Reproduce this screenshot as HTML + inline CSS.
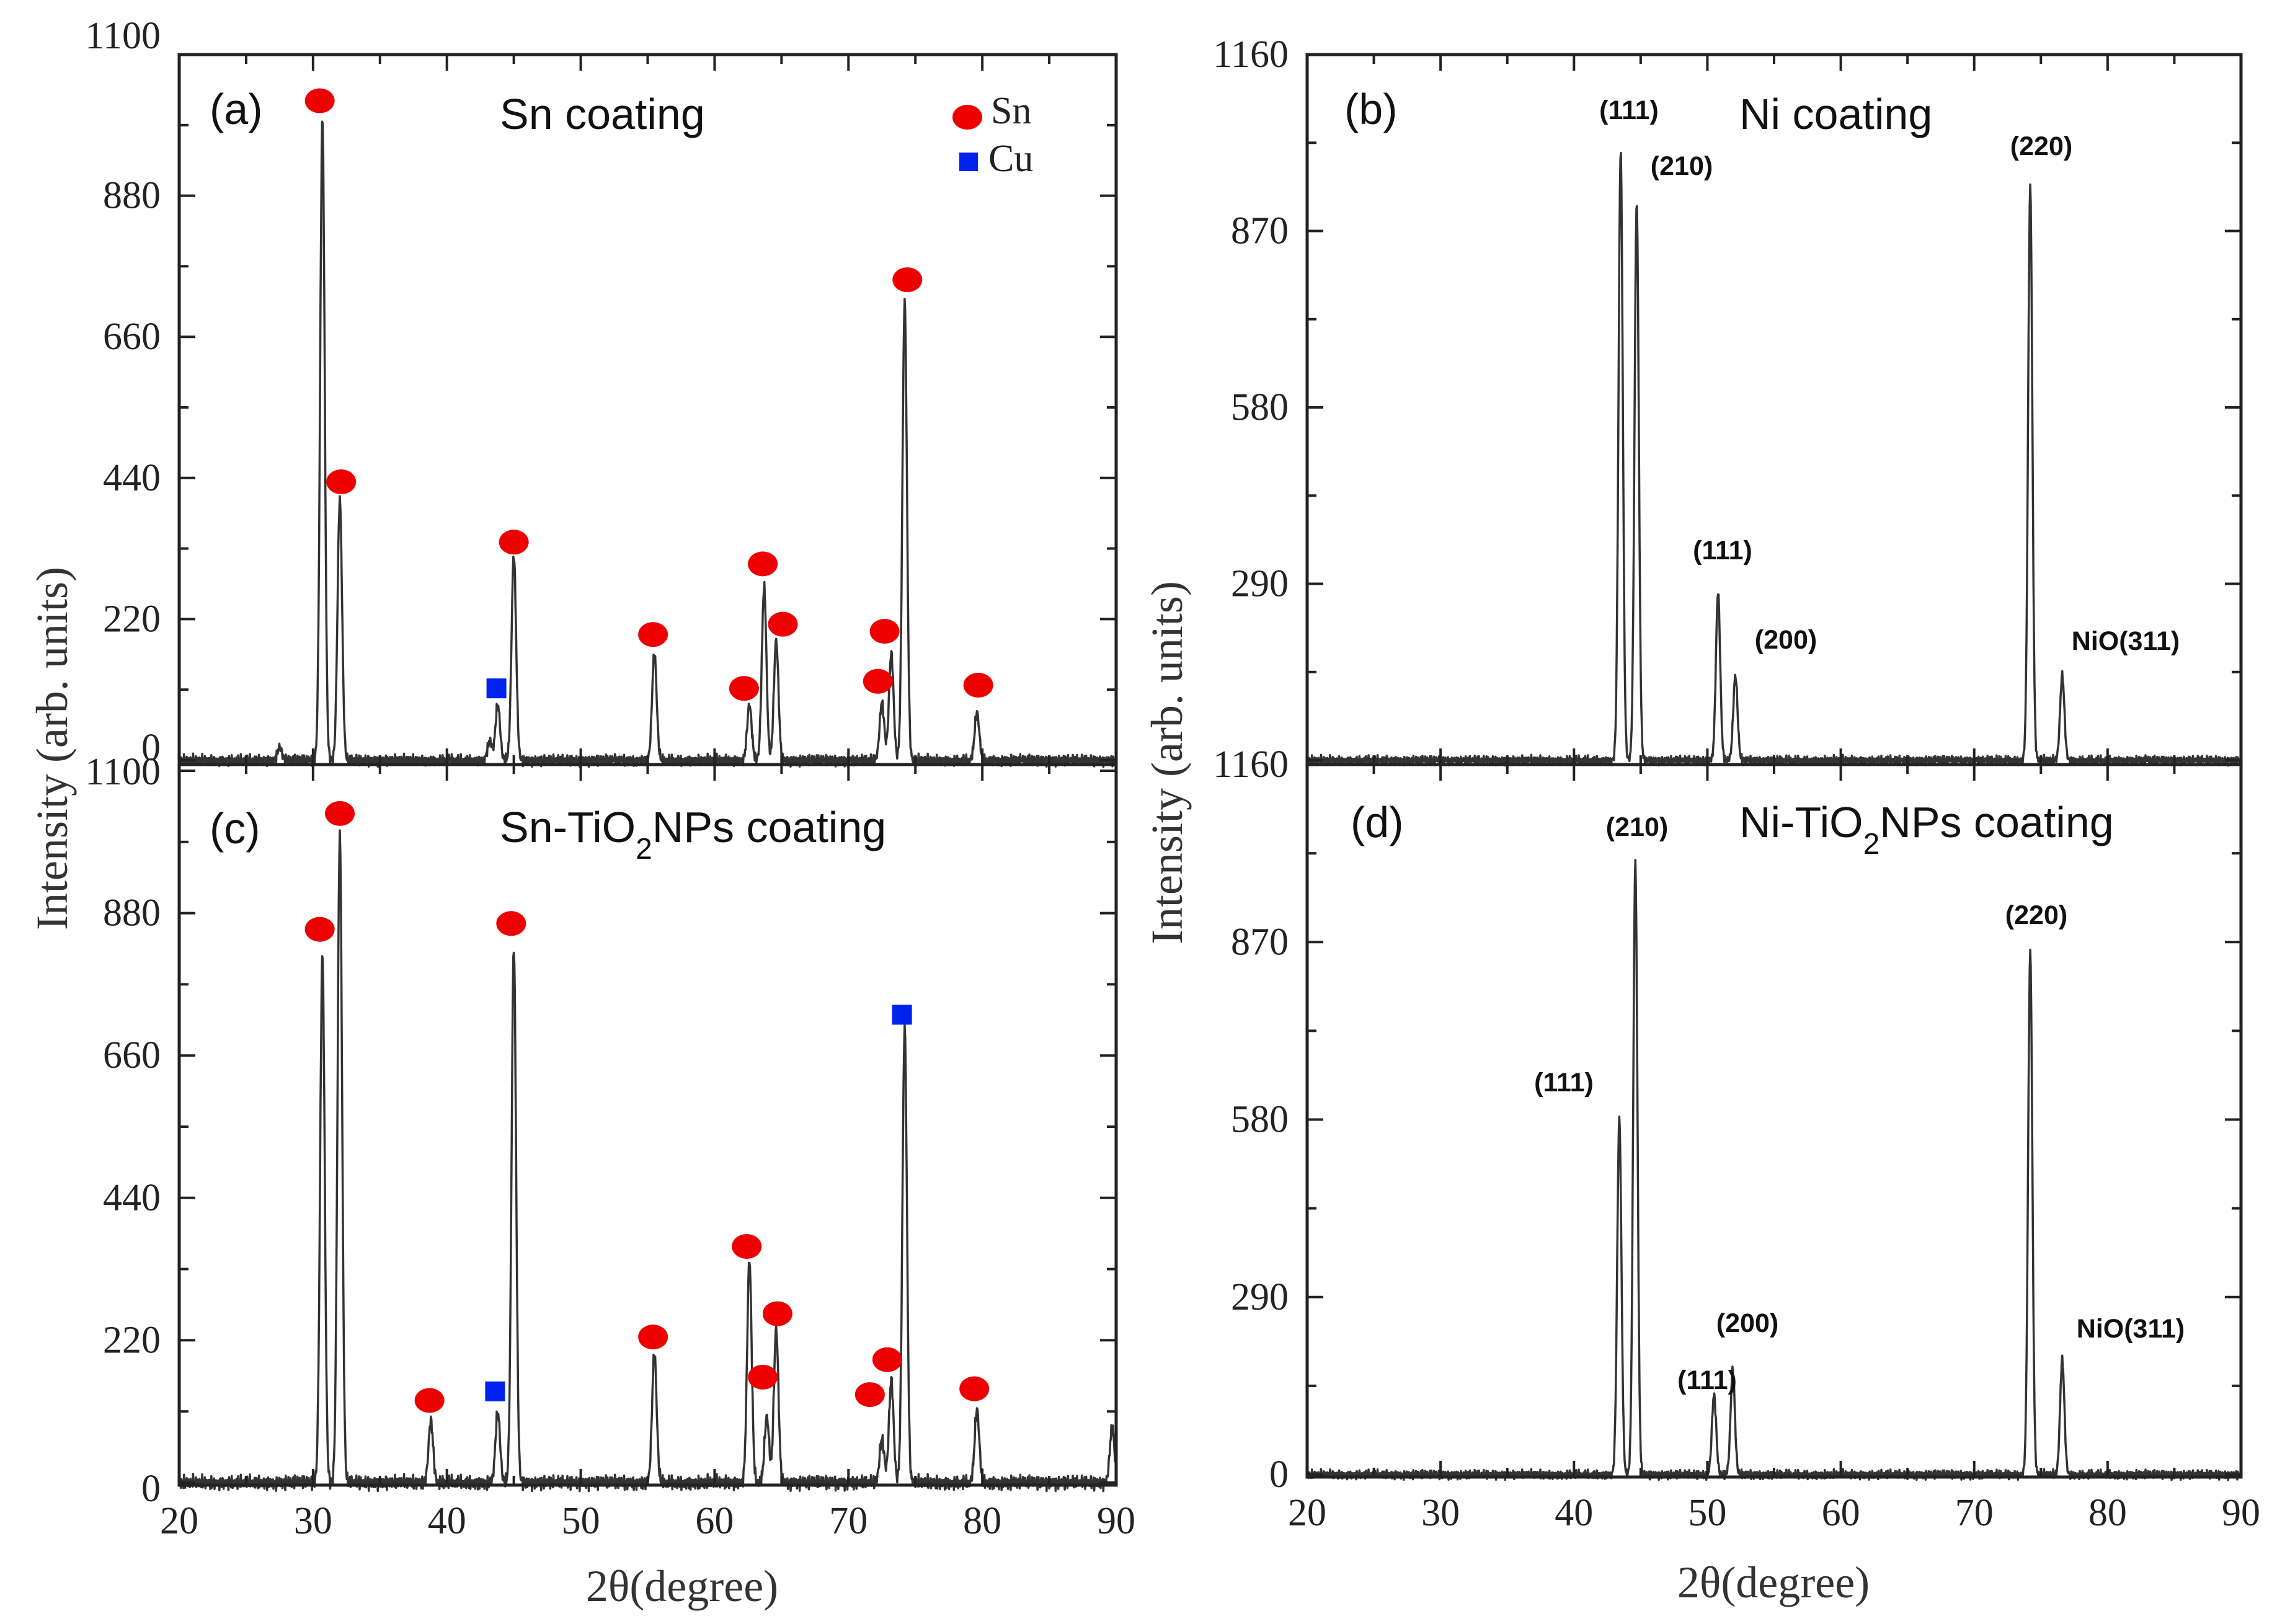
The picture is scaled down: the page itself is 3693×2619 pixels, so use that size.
<!DOCTYPE html>
<html><head><meta charset="utf-8">
<style>
html,body{margin:0;padding:0;background:#fff;}
svg{display:block;}
.tick{font-family:"Liberation Serif",serif;font-size:62px;fill:#222;}
.ann{font-family:"Liberation Sans",sans-serif;font-size:70px;fill:#111;}
.hkl{font-family:"Liberation Sans",sans-serif;font-size:43px;font-weight:bold;fill:#111;}
.axt{font-family:"Liberation Serif",serif;font-size:72px;fill:#333;}
</style></head>
<body>
<svg id="fig" width="3693" height="2619" viewBox="0 0 3693 2619" xmlns="http://www.w3.org/2000/svg"></svg>
<script>
// ---- data ----
const aPeakPos = [27.5, 30.7, 32.0, 43.2, 43.8, 45.0, 55.5, 62.6, 63.7, 64.6, 72.5, 73.2, 74.2, 79.6];
const aPeakVal = [20, 1000, 407, 30, 87, 320, 167, 87, 270, 187, 91, 167, 715, 75];
const aCircX = [30.5, 32.1, 45.0, 55.4, 62.2, 63.6, 65.1, 72.2, 72.7, 74.4, 79.7];
const aCircY = [1028, 434, 340, 196, 112, 306, 212, 123, 201, 749, 117];
const aSqX = [43.7];
const aSqY = [112];

const cPeakPos = [30.7, 32.0, 38.8, 43.8, 45.0, 55.5, 62.6, 63.9, 64.6, 72.5, 73.2, 74.2, 79.6, 89.7];
const cPeakVal = [816, 1002, 95, 109, 828, 200, 345, 102, 238, 68, 159, 703, 113, 86];
const cCircX = [30.5, 32.0, 38.7, 44.8, 55.4, 62.4, 63.6, 64.7, 71.6, 72.9, 79.4];
const cCircY = [855, 1034, 127, 864, 225, 365, 163, 261, 136, 190, 145];
const cSqX = [43.6, 74.0];
const cSqY = [141, 723];

const bPeakPos = [43.5, 44.7, 50.8, 52.1, 74.2, 76.6];
const bPeakVal = [1003, 917, 276, 139, 943, 139];
const dPeakPos = [43.4, 44.6, 50.5, 51.9, 74.2, 76.6];
const dPeakVal = [581, 998, 130, 170, 854, 187];

const snTicks = [0, 220, 440, 660, 880, 1100];
const niTicks = [0, 290, 580, 870, 1160];
const niTicksTop = [290, 580, 870, 1160];
const xTicks = [20, 30, 40, 50, 60, 70, 80, 90];

// ---- drawing ----
const NS = "http://www.w3.org/2000/svg";
const svg = document.getElementById('fig');
function mk(tag, attrs, parent){
  const e = document.createElementNS(NS, tag);
  for (const k in attrs) e.setAttribute(k, attrs[k]);
  (parent||svg).appendChild(e);
  return e;
}
function panel(p){
  const g = mk('g', {});
  
  
  const sx = v => p.L + (v - 20) / 70 * (p.R - p.L);
  const sy = v => p.y0 - v / p.ymax * (p.y0 - p.ytop);
  let d = '';
  for (let x = 20; x <= 90.001; x += 0.04) {
    let v = 0;
    for (let i = 0; i < p.pos.length; i++) {
      const dx = (x - p.pos[i]) / p.w;
      v += p.val[i] * Math.exp(-0.5 * dx * dx);
    }
    v += p.noise * (Math.sin(x * 37.1) * 0.6 + Math.sin(x * 91.7 + 1.3) * 0.5 + Math.sin(x * 213.3) * 0.4);
    d += (d ? 'L' : 'M') + sx(x).toFixed(1) + ',' + sy(v).toFixed(1);
  }
  const path = mk('path', {d: d, fill: 'none', stroke: '#333', 'stroke-width': 3.5, 'stroke-linejoin': 'round'}, g);
  
  
  const fr = mk('rect', {x: p.L, y: p.T, width: p.R - p.L, height: p.B - p.T, fill: 'none', stroke: '#222', 'stroke-width': 5}, g);
  
  
  for (let x = 20; x <= 90; x += 5) {
    const len = (x % 10 === 0) ? 26 : 15;
    mk('line', {x1: sx(x), x2: sx(x), y1: p.B, y2: p.B - len, stroke: '#222', 'stroke-width': 4}, g);
    mk('line', {x1: sx(x), x2: sx(x), y1: p.T, y2: p.T + len, stroke: '#222', 'stroke-width': 4}, g);
  }
  const step = p.ticks[1] - p.ticks[0];
  for (let v = 0; v <= p.ymax + 0.1; v += step / 2) {
    const major = Math.abs((v / step) - Math.round(v / step)) < 0.01;
    const len = major ? 26 : 15;
    mk('line', {x1: p.L, x2: p.L + len, y1: sy(v), y2: sy(v), stroke: '#222', 'stroke-width': 4}, g);
    mk('line', {x1: p.R, x2: p.R - len, y1: sy(v), y2: sy(v), stroke: '#222', 'stroke-width': 4}, g);
  }
  (p.labels || p.ticks).forEach(t => {
    const tx = mk('text', {x: p.L - 30, y: sy(t) + 20 + (t === p.ymax ? p.topShift : 0) + (t === 0 ? p.zeroShift : 0), 'text-anchor': 'end', class: 'tick'}, g);
    
    
    tx.textContent = t;
  });
  if (p.xlabels) {
    xTicks.forEach(t => {
      const tx = mk('text', {x: sx(t), y: p.B + 78, 'text-anchor': 'middle', class: 'tick', 'font-size': 64}, g);
      
      
      tx.textContent = t;
    });
  }
  (p.cx || []).forEach((x, i) => {
    const c = mk('ellipse', {cx: sx(x), cy: sy(p.cy[i]), rx: 24, ry: 20, fill: '#ee0000'}, g);
    
    
  });
  (p.qx || []).forEach((x, i) => {
    const q = mk('rect', {x: sx(x) - 16, y: sy(p.qy[i]) - 16, width: 32, height: 32, fill: '#0022ee'}, g);
    
    
  });
  return g;
}

panel({name:'panel-a-sn', L:289, R:1800, T:88, B:1233, y0:1226, ytop:88, ymax:1100, ticks:snTicks, pos:aPeakPos, val:aPeakVal, w:0.17, noise:7,
  cx:aCircX, cy:aCircY, qx:aSqX, qy:aSqY, topShift:-30, zeroShift:-20, xlabels:false});
panel({name:'panel-c-sn-tio2', L:289, R:1800, T:1233, B:2395, y0:2391, ytop:1243, ymax:1100, ticks:snTicks, pos:cPeakPos, val:cPeakVal, w:0.17, noise:9,
  cx:cCircX, cy:cCircY, qx:cSqX, qy:cSqY, topShift:2, zeroShift:10, xlabels:true});
panel({name:'panel-b-ni', L:2108, R:3614, T:88, B:1233, y0:1226, ytop:88, ymax:1160, ticks:niTicks, labels:niTicksTop, pos:bPeakPos, val:bPeakVal, w:0.16, noise:6, topShift:0, zeroShift:0, xlabels:false});
panel({name:'panel-d-ni-tio2', L:2108, R:3614, T:1233, B:2382, y0:2378, ytop:1233, ymax:1160, ticks:niTicks, pos:dPeakPos, val:dPeakVal, w:0.16, noise:6, topShift:0, zeroShift:0, xlabels:true});

function txt(x, y, cls, s, name, extra){
  const t = mk('text', Object.assign({x: x, y: y, class: cls}, extra || {}));
  
  
  t.innerHTML = s;
  return t;
}
txt(338, 200, 'ann', '(a)', 'panel-label-a');
txt(806, 208, 'ann', 'Sn coating', 'panel-title-a');
txt(338, 1360, 'ann', '(c)', 'panel-label-c');
txt(806, 1358, 'ann', 'Sn-TiO<tspan baseline-shift="sub" font-size="48">2</tspan>NPs coating', 'panel-title-c');
txt(2168, 200, 'ann', '(b)', 'panel-label-b');
txt(2805, 208, 'ann', 'Ni coating', 'panel-title-b');
txt(2178, 1350, 'ann', '(d)', 'panel-label-d');
txt(2805, 1350, 'ann', 'Ni-TiO<tspan baseline-shift="sub" font-size="48">2</tspan>NPs coating', 'panel-title-d');
const le1 = mk('ellipse', {cx: 1560, cy: 189, rx: 24, ry: 20, fill: '#ee0000'});


const le2 = mk('rect', {x: 1547, y: 246, width: 30, height: 30, fill: '#0022ee'});


txt(1598, 199, 'tick', 'Sn', 'legend-sn-label', {'font-size': 50});
txt(1594, 276, 'tick', 'Cu', 'legend-cu-label', {'font-size': 50});
txt(2627, 192, 'hkl', '(111)', 'hkl-b-111', {'text-anchor':'middle'});
txt(2712, 282, 'hkl', '(210)', 'hkl-b-210', {'text-anchor':'middle'});
txt(2778, 902, 'hkl', '(111)', 'hkl-b-111-second', {'text-anchor':'middle'});
txt(2880, 1046, 'hkl', '(200)', 'hkl-b-200', {'text-anchor':'middle'});
txt(3292, 250, 'hkl', '(220)', 'hkl-b-220', {'text-anchor':'middle'});
txt(3428, 1048, 'hkl', 'NiO(311)', 'hkl-b-nio311', {'text-anchor':'middle'});
txt(2640, 1348, 'hkl', '(210)', 'hkl-d-210', {'text-anchor':'middle'});
txt(2522, 1760, 'hkl', '(111)', 'hkl-d-111', {'text-anchor':'middle'});
txt(2818, 2148, 'hkl', '(200)', 'hkl-d-200', {'text-anchor':'middle'});
txt(2753, 2240, 'hkl', '(111)', 'hkl-d-111-second', {'text-anchor':'middle'});
txt(3284, 1490, 'hkl', '(220)', 'hkl-d-220', {'text-anchor':'middle'});
txt(3436, 2157, 'hkl', 'NiO(311)', 'hkl-d-nio311', {'text-anchor':'middle'});
txt(108, 1207, 'axt', 'Intensity (arb. units)', 'y-axis-title-left', {'text-anchor':'middle', transform:'rotate(-90 108 1207)'});
txt(1906, 1230, 'axt', 'Intensity (arb. units)', 'y-axis-title-right', {'text-anchor':'middle', transform:'rotate(-90 1906 1230)'});
txt(1100, 2582, 'axt', '2θ(degree)', 'x-axis-title-left', {'text-anchor':'middle'});
txt(2860, 2576, 'axt', '2θ(degree)', 'x-axis-title-right', {'text-anchor':'middle'});
</script>
</body></html>
